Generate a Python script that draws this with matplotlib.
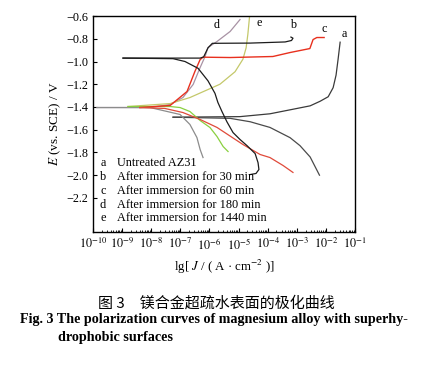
import numpy as np
import matplotlib
matplotlib.use('Agg')
import matplotlib.pyplot as plt

plt.rcParams['font.family'] = ['Liberation Serif', 'DejaVu Serif']
plt.rcParams['mathtext.fontset'] = 'stix'

# curves: lg J and E (V vs SCE)
a_anod_lgJ = [-7.25, -4.95, -3.92, -3.13, -2.54, -2.20, -1.92, -1.75, -1.65, -1.58, -1.51]
a_anod_E = [-1.49, -1.485, -1.46, -1.42, -1.39, -1.35, -1.31, -1.23, -1.12, -0.98, -0.83]
a_cath_lgJ = [-7.25, -5.29, -4.60, -3.92, -3.23, -2.89, -2.54, -2.22]
a_cath_E = [-1.49, -1.50, -1.53, -1.58, -1.67, -1.74, -1.84, -2.00]

b_anod_lgJ = [-8.97, -6.32, -6.20, -6.05, -5.90, -4.60, -3.40, -3.18, -3.13, -3.20]
b_anod_E = [-0.97, -0.97, -0.96, -0.88, -0.84, -0.838, -0.828, -0.815, -0.795, -0.785]
b_cath_lgJ = [-8.97, -7.25, -6.84, -6.39, -6.05, -5.81, -5.71, -5.57, -5.40, -5.19, -4.95,
              -4.71, -4.43, -4.33, -4.30, -4.40, -4.61]
b_cath_E = [-0.97, -0.975, -1.00, -1.06, -1.17, -1.28, -1.36, -1.44, -1.53, -1.625, -1.686,
            -1.74, -1.81, -1.89, -1.95, -1.985, -1.995]

c_anod_lgJ = [-8.39, -7.35, -6.77, -6.50, -6.32, -6.22, -5.29, -3.82, -3.23, -2.55, -2.44,
              -2.31, -2.06]
c_anod_E = [-1.405, -1.387, -1.264, -1.088, -0.983, -0.962, -0.965, -0.956, -0.921, -0.886,
            -0.807, -0.789, -0.789]
c_cath_lgJ = [-8.39, -7.53, -6.91, -6.32, -5.74, -4.85, -4.26, -3.92, -3.47, -3.13]
c_cath_E = [-1.405, -1.413, -1.449, -1.51, -1.58, -1.73, -1.818, -1.845, -1.915, -1.976]

d_anod_lgJ = [-9.86, -8.04, -7.35, -6.91, -6.56, -6.32, -6.15, -6.05, -5.74, -5.29, -4.95]
d_anod_E = [-1.405, -1.405, -1.378, -1.317, -1.202, -1.053, -0.956, -0.877, -0.824, -0.736,
            -0.631]
d_cath_lgJ = [-9.86, -8.04, -7.01, -6.67, -6.43, -6.32, -6.22]
d_cath_E = [-1.405, -1.405, -1.466, -1.554, -1.669, -1.774, -1.845]

e_anod_lgJ = [-8.80, -7.35, -6.67, -5.64, -5.12, -4.85, -4.74, -4.68, -4.62]
e_anod_E = [-1.396, -1.37, -1.317, -1.20, -1.09, -0.98, -0.88, -0.76, -0.60]
e_cath_lgJ = [-8.80, -7.35, -7.01, -6.67, -6.32, -5.98, -5.74, -5.53, -5.36]
e_cath_E = [-1.396, -1.396, -1.405, -1.44, -1.519, -1.581, -1.66, -1.748, -1.792]

letters = ['a', 'b', 'c', 'd', 'e']
names = ['Untreated AZ31', 'After immersion for 30 min', 'After immersion for 60 min',
         'After immersion for 180 min', 'After immersion for 1440 min']
label_lgJ = [-1.37, -3.13, -2.06, -5.74, -4.30]
label_E = [-0.76, -0.675, -0.71, -0.675, -0.66]

yticks = [-2.2, -2.0, -1.8, -1.6, -1.4, -1.2, -1.0, -0.8, -0.6]
xdec = list(range(-10, 0))

fig = plt.figure(figsize=(4.33, 3.73), dpi=100)
ax = fig.add_axes([0.2148, 0.378, 0.605, 0.579])

def pl(x, y, col, lw=0.9):
    ax.plot(10 ** np.array(x), y, color=col, lw=lw)

pl(a_anod_lgJ, a_anod_E, '#3a3a3a')
pl(a_cath_lgJ, a_cath_E, '#4a4a4a')
pl(d_anod_lgJ, d_anod_E, '#a892a4')
pl(d_cath_lgJ, d_cath_E, '#8c8c8c')
pl(e_anod_lgJ, e_anod_E, '#c4c86a')
pl(e_cath_lgJ, e_cath_E, '#8ad040')
pl(c_anod_lgJ, c_anod_E, '#e8301e', 1.0)
pl(c_cath_lgJ, c_cath_E, '#e04a3a')
pl(b_anod_lgJ, b_anod_E, '#1c1c1c')
pl(b_cath_lgJ, b_cath_E, '#1c1c1c')

for i in range(len(letters)):
    ax.text(10 ** label_lgJ[i], label_E[i], letters[i], fontsize=8.7, ha='center', va='center')

ax.set_xscale('log')
ax.set_xlim(1e-10, 1e-1)
ax.set_ylim(-2.5, -0.6)
ax.set_yticks(yticks)
ax.set_yticklabels([('%.1f' % v).replace('-', '\u2212') for v in yticks])
ax.set_xticks([10.0 ** k for k in xdec])
ax.set_xticklabels([r'$10^{%d}$' % k for k in xdec])
ax.xaxis.set_minor_locator(matplotlib.ticker.LogLocator(base=10, subs=np.arange(2, 10), numticks=20))
ax.xaxis.set_minor_formatter(matplotlib.ticker.NullFormatter())
ax.tick_params(direction='in', labelsize=8.7, length=3, width=0.8)
ax.tick_params(which='minor', direction='in', length=1.8, width=0.6)
for s in ax.spines.values():
    s.set_linewidth(1.0)

ax.set_xlabel(r'lg[ $J$ / ( A · cm$^{-2}$ )]', fontsize=9.3, labelpad=4)
ax.set_ylabel(r'$E$ (vs. SCE) / V', fontsize=9.5, labelpad=2)

# legend as letters + descriptions
leg_y = [0.319, 0.255, 0.19, 0.125, 0.063]
for i in range(len(letters)):
    ax.text(0.038, leg_y[i], letters[i], transform=ax.transAxes, fontsize=8.8, ha='center', va='center')
    ax.text(0.09, leg_y[i], names[i], transform=ax.transAxes, fontsize=8.8, ha='left', va='center')

fig.text(216 / 433, 1 - 303 / 373, '图 3　镁合金超疏水表面的极化曲线', fontsize=10.8,
         family=['Noto Sans CJK SC', 'DejaVu Sans'], ha='center', va='center')
fig.text(20 / 433, 1 - 320 / 373, 'Fig. 3 The polarization curves of magnesium alloy with superhy-',
         fontsize=10.2, fontweight='bold', ha='left', va='center')
fig.text(58 / 433, 1 - 337 / 373, 'drophobic surfaces', fontsize=10.2, fontweight='bold',
         ha='left', va='center')

fig.savefig('out.png', dpi=100)
